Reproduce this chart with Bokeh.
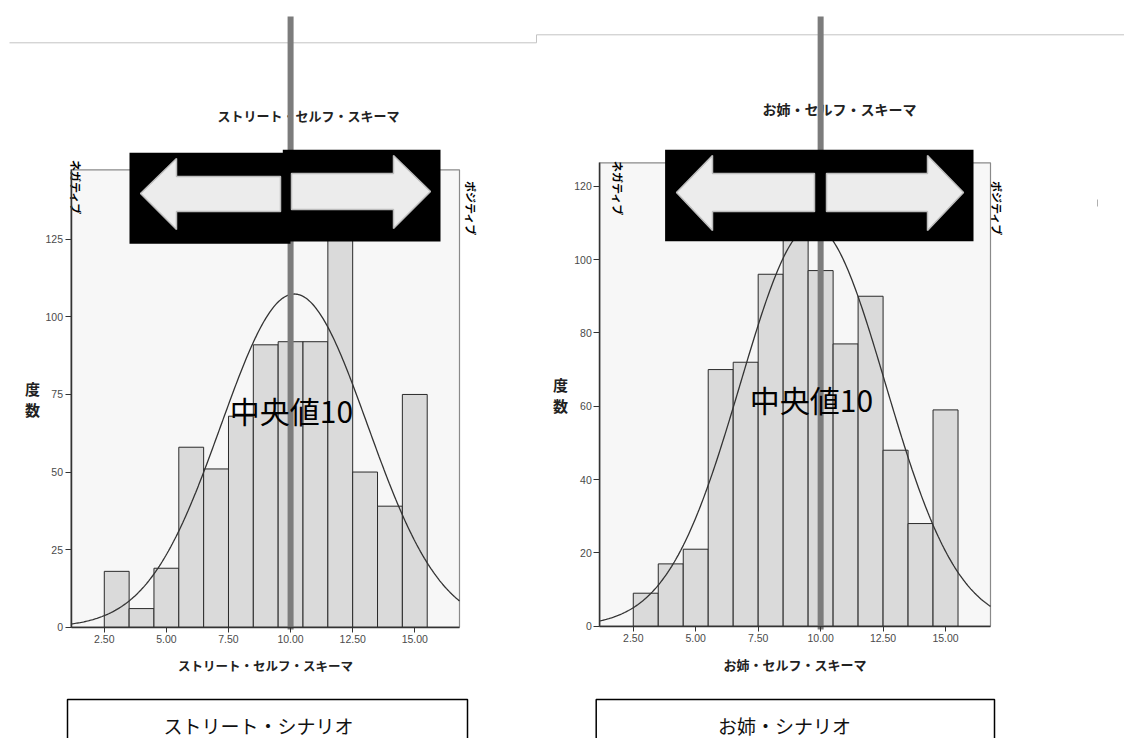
import numpy as np
from bokeh.plotting import figure
from bokeh.models import Range1d, LinearAxis, FixedTicker, NumeralTickFormatter
from bokeh.core.properties import value
from bokeh.embed import file_html
from bokeh.resources import INLINE

# ---------------- data ----------------
BIN_CENTERS = [3, 4, 5, 6, 7, 8, 9, 10, 11, 12, 13, 14, 15]
STREET_COUNTS = [18, 6, 19, 58, 51, 68, 91, 92, 92, 135, 50, 39, 75]
SISTER_COUNTS = [9, 17, 21, 70, 72, 96, 110, 97, 77, 90, 48, 28, 59]
X_TICKS = [2.5, 5.0, 7.5, 10.0, 12.5, 15.0]
STREET_Y_TICKS = [0, 25, 50, 75, 100, 125]
SISTER_Y_TICKS = [0, 20, 40, 60, 80, 100, 120]
STREET_MEAN, STREET_SD = 10.15, 2.95
SISTER_MEAN, SISTER_SD = 9.69, 2.90
N_RESP = 794
BIN_WIDTH = 1.0
MEDIAN = 10
X_LIMITS = (1.16, 16.8)
STREET_Y_MAX = 147.4
SISTER_Y_MAX = 126.4

STREET_TITLE = "ストリート・セルフ・スキーマ"
SISTER_TITLE = "お姉・セルフ・スキーマ"
STREET_SCENARIO = "ストリート・シナリオ"
SISTER_SCENARIO = "お姉・シナリオ"
Y_LABEL = "度\n数"
MEDIAN_TEXT = "中央値10"
LEFT_WORD = "ネガティブ"
RIGHT_WORD = "ポジティブ"

# ---------------- layout (window pixels) ----------------
W, H = 1124, 738
OX, OY = 0, 0
JP = value("Noto Sans CJK JP")
NARROW = "Liberation Sans Narrow, Liberation Sans, Arial"

p = figure(width=W, height=H, output_backend="svg", toolbar_location=None,
           x_axis_location=None, y_axis_location=None,
           x_range=Range1d(OX, OX + W), y_range=Range1d(OY + H, OY),
           min_border=0, title=None)
p.outline_line_color = None
p.background_fill_color = "white"
p.border_fill_color = "white"
p.xgrid.grid_line_color = None
p.ygrid.grid_line_color = None


def mapped_range(a, b, pa, pb, lo, hi):
    s = (pb - pa) / (b - a)
    return Range1d(start=a + (lo - pa) / s, end=a + (hi - pa) / s)


extra_x, extra_y = {}, {}

panels = [
    dict(key="st", counts=STREET_COUNTS, mean=STREET_MEAN, sd=STREET_SD,
         y_max=STREET_Y_MAX, y_ticks=STREET_Y_TICKS, frame=(70.5, 169.3, 459.0, 626.7),
         title=STREET_TITLE, title_xy=(308, 115), title_size="13px",
         xlabel=STREET_TITLE, xlabel_size="12.5px",
         scen=STREET_SCENARIO, scen_box=(67, 699, 467), scen_xy=(258, 725),
         med_xy=(291, 409),
         boxes=[(129, 152.3, 290, 243.3), (282.3, 149.3, 440, 241)],
         arrows=[([140, 176, 176, 280, 280, 176, 176], [193, 158, 176, 176, 211, 211, 229]),
                 ([291, 393, 393, 430, 393, 393, 291], [173, 173, 155, 191, 228, 209, 209])],
         words=[(75, 187, LEFT_WORD), (470, 208, RIGHT_WORD)]),
    dict(key="si", counts=SISTER_COUNTS, mean=SISTER_MEAN, sd=SISTER_SD,
         y_max=SISTER_Y_MAX, y_ticks=SISTER_Y_TICKS, frame=(599.3, 162.3, 990.0, 625.7),
         title=SISTER_TITLE, title_xy=(839, 108), title_size="14px",
         xlabel=SISTER_TITLE, xlabel_size="13px",
         scen=SISTER_SCENARIO, scen_box=(595.7, 699, 994), scen_xy=(784, 725),
         med_xy=(811, 398),
         boxes=[(664.6, 149.3, 973, 240.7)],
         arrows=[([676, 712, 712, 814, 814, 712, 712], [192, 155, 173, 173, 211, 211, 230]),
                 ([826, 927, 927, 963, 927, 927, 826], [173, 173, 155, 192, 230, 211, 211])],
         words=[(617, 188, LEFT_WORD), (996, 208, RIGHT_WORD)]),
]

# top page rules
p.line(x=[9, 536, 536, 1132], y=[42.3, 42.3, 34.3, 34.3], line_color="#c4c4c4", line_width=1)

for d in panels:
    xn, yn = d["key"] + "_x", d["key"] + "_y"
    fl, ft, fr, fb = d["frame"]
    extra_x[xn] = mapped_range(X_LIMITS[0], X_LIMITS[1], fl, fr, OX, OX + W)
    extra_y[yn] = mapped_range(0, d["y_max"], fb, ft, OY + H, OY)

    # plot background / frame
    p.quad(left=[X_LIMITS[0]], right=[X_LIMITS[1]], bottom=[0], top=[d["y_max"]],
           x_range_name=xn, y_range_name=yn,
           fill_color="#f7f7f7", line_color="#8a8a8a", line_width=1.2)

    centers = np.array(BIN_CENTERS, dtype=float)
    p.quad(left=centers - BIN_WIDTH / 2, right=centers + BIN_WIDTH / 2,
           bottom=0, top=d["counts"], x_range_name=xn, y_range_name=yn,
           fill_color="#dadada", line_color="#2a2a2a", line_width=1)

    xs = np.linspace(X_LIMITS[0], X_LIMITS[1], 300)
    ys = N_RESP * BIN_WIDTH / (d["sd"] * np.sqrt(2 * np.pi)) * np.exp(-0.5 * ((xs - d["mean"]) / d["sd"]) ** 2)
    p.line(xs, ys, x_range_name=xn, y_range_name=yn, line_color="#333333", line_width=1.3)

    # axes
    xa = LinearAxis(x_range_name=xn, y_range_name=yn, fixed_location=0, bounds=X_LIMITS,
                    ticker=FixedTicker(ticks=X_TICKS), formatter=NumeralTickFormatter(format="0.00"),
                    axis_label=d["xlabel"], axis_label_standoff=9,
                    axis_label_text_font="Noto Sans CJK JP", axis_label_text_font_style="bold",
                    axis_label_text_font_size=d["xlabel_size"], axis_label_text_color="#222222",
                    major_label_text_font=NARROW, major_label_text_font_size="10.5px",
                    major_label_text_color="#4a4a4a", major_label_standoff=3,
                    major_tick_in=0, major_tick_out=5, minor_tick_line_color=None,
                    axis_line_color="#333333", axis_line_width=1.5, major_tick_line_color="#333333")
    p.add_layout(xa, "below")
    ya = LinearAxis(x_range_name=xn, y_range_name=yn, fixed_location=X_LIMITS[0],
                    bounds=(0, d["y_max"]), ticker=FixedTicker(ticks=d["y_ticks"]),
                    axis_label=Y_LABEL, axis_label_orientation="horizontal", axis_label_standoff=3,
                    axis_label_text_font="Noto Sans CJK JP", axis_label_text_font_style="bold",
                    axis_label_text_font_size="15px", axis_label_text_color="#222222",
                    axis_label_text_line_height=1.0,
                    major_label_text_font=NARROW, major_label_text_font_size="10.5px",
                    major_label_text_color="#4a4a4a", major_label_standoff=2,
                    major_tick_in=0, major_tick_out=6, minor_tick_line_color=None,
                    axis_line_color="#333333", axis_line_width=1.5, major_tick_line_color="#333333")
    p.add_layout(ya, "left")

    # chart title
    tx, ty = d["title_xy"]
    p.text(x=[tx], y=[ty], text=[d["title"]], text_font=JP, text_font_style="bold",
           text_font_size=d["title_size"], text_align="center", text_baseline="middle",
           text_color="#222222")

    # median line
    p.segment(x0=[MEDIAN], x1=[MEDIAN], y0=[16], y1=[629], x_range_name=xn,
              line_color="#7c7c7c", line_width=6, line_cap="butt")

    mx, my = d["med_xy"]
    p.text(x=[mx], y=[my], text=[MEDIAN_TEXT], text_font=JP, text_font_size="30px",
           text_align="center", text_baseline="middle", text_color="black")

    # arrow boxes
    for (l, t, r, b) in d["boxes"]:
        p.quad(left=[l], right=[r], top=[t], bottom=[b], fill_color="black", line_color=None)
    for ax_, ay_ in d["arrows"]:
        p.patch(ax_, ay_, fill_color="#ececec", line_color="#bdbdbd", line_width=1.5)

    for (wx, wy, wt) in d["words"]:
        p.text(x=[wx], y=[wy], text=[wt], angle=-90, angle_units="deg", text_font=JP,
               text_font_style="bold", text_font_size="11px", text_align="center",
               text_baseline="middle", text_color="black")

    # scenario box
    bl, bt, br = d["scen_box"]
    p.quad(left=[bl], right=[br], top=[bt], bottom=[760], fill_color=None,
           line_color="black", line_width=1.5)
    sx, sy = d["scen_xy"]
    p.text(x=[sx], y=[sy], text=[d["scen"]], text_font=JP, text_font_size="19px",
           text_align="center", text_baseline="middle", text_color="#111111")

p.extra_x_ranges = extra_x
p.extra_y_ranges = extra_y

# small stray mark at the right
p.segment(x0=[1097], x1=[1097], y0=[199], y1=[206], line_color="#b0b0b0", line_width=1)

open("out.html", "w").write(file_html(p, INLINE))
